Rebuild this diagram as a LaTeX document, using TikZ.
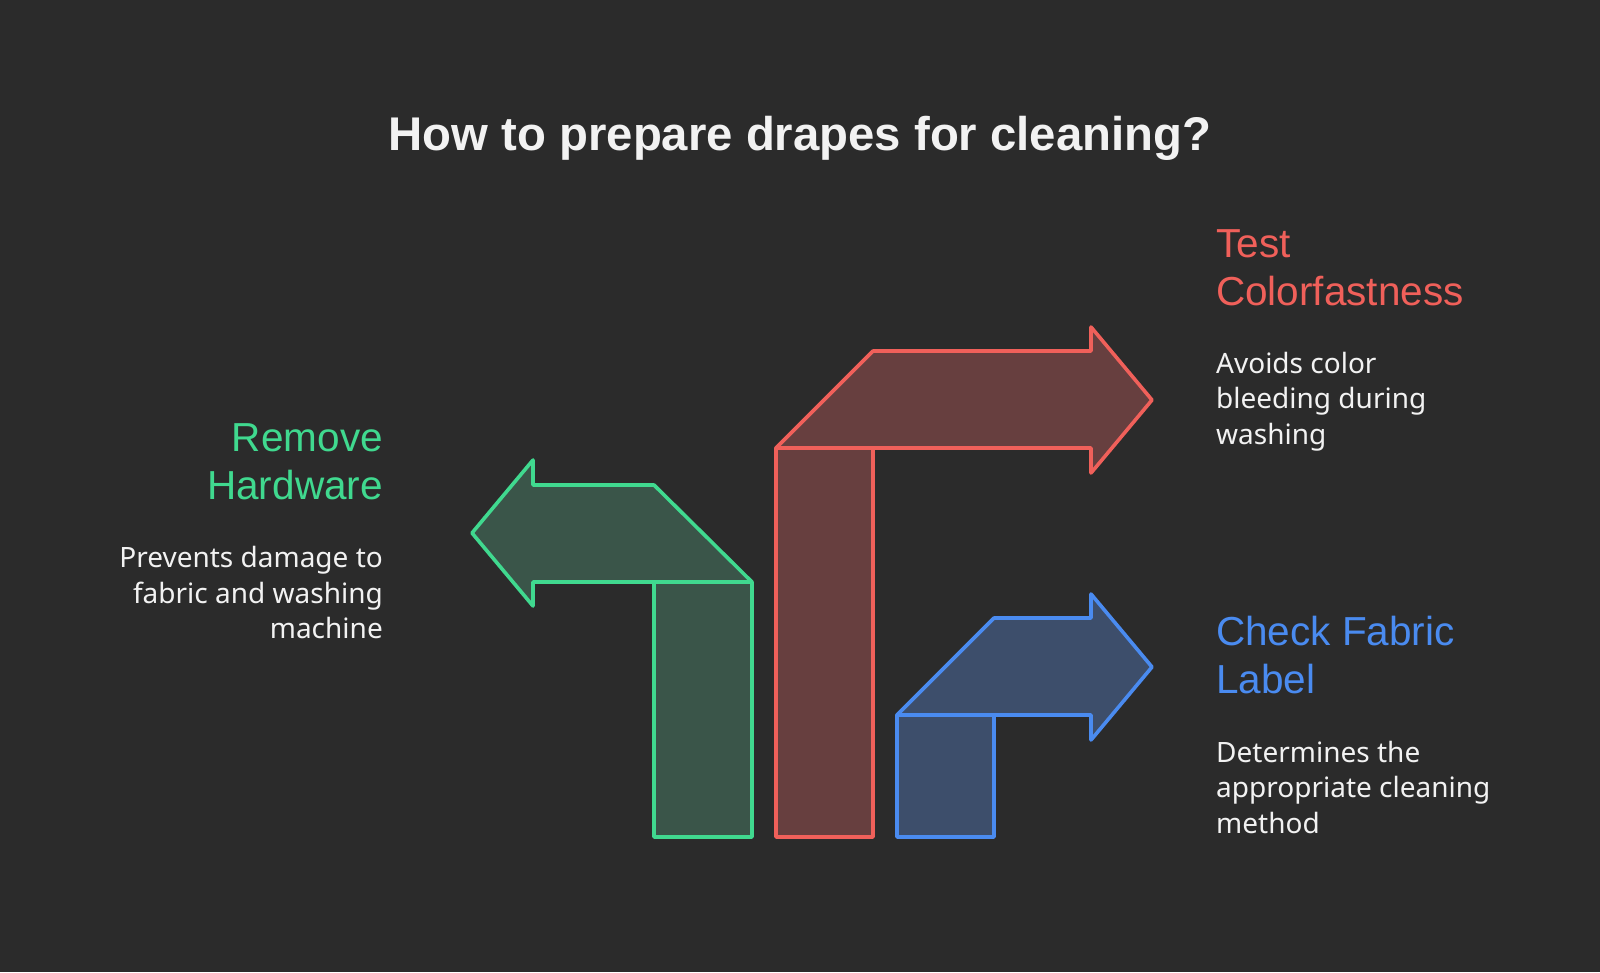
\documentclass[tikz,border=0pt]{standalone}
\usepackage{fontspec}
\setmainfont{Liberation Sans}
\newfontfamily\bodyfont{Noto Sans}
\definecolor{bg}{HTML}{2B2B2B}
\definecolor{gstroke}{HTML}{40D98F}
\definecolor{gfill}{HTML}{3A5549}
\definecolor{rstroke}{HTML}{F0605A}
\definecolor{rfill}{HTML}{673F3F}
\definecolor{bstroke}{HTML}{4A8BF0}
\definecolor{bfill}{HTML}{3D4E6B}
\definecolor{txt}{HTML}{F2F2F2}
\tikzset{
  shp/.style={line width=3.6pt, line join=round},
  gshape/.style={shp, draw=gstroke, fill=gfill},
  rshape/.style={shp, draw=rstroke, fill=rfill},
  bshape/.style={shp, draw=bstroke, fill=bfill},
  titletext/.style={inner sep=0pt, text=txt, font=\fontsize{47.3}{56}\selectfont\bfseries, anchor=base},
  headtext/.style={inner sep=0pt, font=\fontsize{40.5}{48}\selectfont},
  bodytext/.style={inner sep=0pt, text=txt, font=\bodyfont\fontsize{28}{35}\selectfont},
}
\begin{document}
\begin{tikzpicture}[x=1pt,y=-1pt]
\fill[bg] (0,0) rectangle (1600,972);
\useasboundingbox (0,0) rectangle (1600,972);

\node[titletext] (title) at (800,150) {How to prepare drapes for cleaning?};

% green (Remove Hardware)
\draw[gshape] (654,582) rectangle (752,837);
\draw[gshape] (752,582) -- (654,485) -- (533,485) -- (533,460) -- (472,533) -- (533,606) -- (533,582) -- cycle;

% red (Test Colorfastness)
\draw[rshape] (776,448) rectangle (873,837);
\draw[rshape] (776,448) -- (873,351) -- (1091,351) -- (1091,327) -- (1152,400) -- (1091,473) -- (1091,448) -- cycle;

% blue (Check Fabric Label)
\draw[bshape] (897,715) rectangle (994,837);
\draw[bshape] (897,715) -- (994,618) -- (1091,618) -- (1091,594) -- (1152,667) -- (1091,740) -- (1091,715) -- cycle;

% Remove Hardware text
\node[headtext, text=gstroke, anchor=base east] (g1) at (383,451) {Remove};
\node[headtext, text=gstroke, anchor=base east] (g2) at (383,499) {Hardware};
\node[bodytext, anchor=base east] (gb1) at (383,567) {Prevents damage to};
\node[bodytext, anchor=base east] (gb2) at (383,603) {fabric and washing};
\node[bodytext, anchor=base east] (gb3) at (383,638) {machine};

% Test Colorfastness text
\node[headtext, text=rstroke, anchor=base west] (r1) at (1216,257) {Test};
\node[headtext, text=rstroke, anchor=base west] (r2) at (1216,305) {Colorfastness};
\node[bodytext, anchor=base west] (rb1) at (1216,373) {Avoids color};
\node[bodytext, anchor=base west] (rb2) at (1216,408) {bleeding during};
\node[bodytext, anchor=base west] (rb3) at (1216,444) {washing};

% Check Fabric Label text
\node[headtext, text=bstroke, anchor=base west] (b1) at (1216,645) {Check Fabric};
\node[headtext, text=bstroke, anchor=base west] (b2) at (1216,693) {Label};
\node[bodytext, anchor=base west] (bb1) at (1216,762) {Determines the};
\node[bodytext, anchor=base west] (bb2) at (1216,797) {appropriate cleaning};
\node[bodytext, anchor=base west] (bb3) at (1216,833) {method};
\end{tikzpicture}
\end{document}
